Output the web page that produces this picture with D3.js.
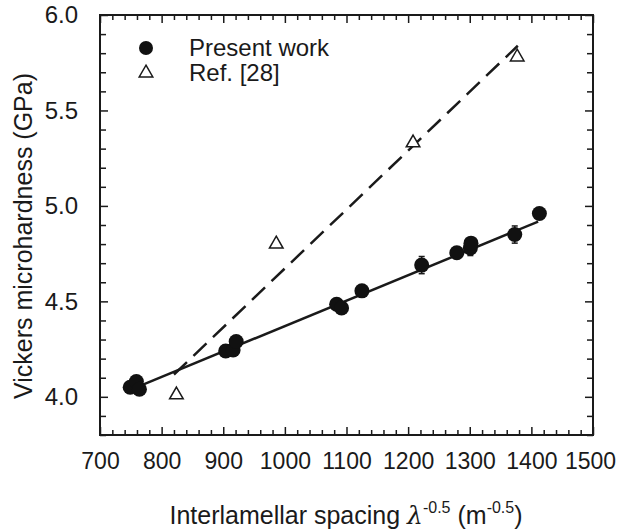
<!DOCTYPE html>
<html>
<head>
<meta charset="utf-8">
<script src="https://cdn.jsdelivr.net/npm/d3@7"></script>
<style>
body { margin: 0; background: #fff; }
text { font-family: "Liberation Sans", Arial, sans-serif; fill: #1a1a1a; }
</style>
</head>
<body>
<div id="chart-area"></div>
<script>
// present work (filled circles)
var presentX = [749, 759, 764, 904, 916, 921, 1084, 1092, 1125, 1222, 1279, 1301, 1302, 1373, 1413];
var presentY = [4.05, 4.08, 4.04, 4.24, 4.245, 4.29, 4.485, 4.465, 4.555, 4.69, 4.755, 4.78, 4.805, 4.85, 4.96];
var presentErr = [0.02, 0.02, 0.03, 0.03, 0.02, 0.02, 0.02, 0.02, 0.02, 0.045, 0.02, 0.04, 0.02, 0.045, 0.02];

// Ref. [28] (open triangles)
var refX = [824, 986, 1208, 1377];
var refY = [4.01, 4.80, 5.33, 5.78];

// fitted lines
var fitPresentX = [757, 1411];
var fitPresentY = [4.047, 4.918];
var fitRefX = [820, 1378];
var fitRefY = [4.117, 5.839];

var xMajor = [700, 800, 900, 1000, 1100, 1200, 1300, 1400, 1500];
var yMajor = [4.0, 4.5, 5.0, 5.5, 6.0];
var legendLabels = ["Present work", "Ref. [28]"];

var margin = {left: 100, right: 25, top: 15, bottom: 97};
var width = 493;
var height = 420;

var svg = d3.select("#chart-area")
	.append("svg")
	.attr("width", 618)
	.attr("height", 532);

var g = svg.append("g")
	.attr("transform", "translate(" + margin.left + "," + margin.top + ")");

var x = d3.scaleLinear()
	.domain([700, 1500])
	.range([0, width]);

var y = d3.scaleLinear()
	.domain([3.8, 6.0])
	.range([height, 0]);

var xMinor = d3.range(700, 1501, 20).filter((d) => { return d % 100 != 0; });
var yMinor = d3.range(38, 61, 1).map((d) => { return d / 10; }).filter((d) => { return Math.round(d * 10) % 5 != 0; });

function styleAxis(sel) {
	sel.select(".domain").remove();
	sel.selectAll("line").attr("stroke", "#1a1a1a").attr("stroke-width", 1.5);
	sel.selectAll("text").attr("font-size", "23px");
}

// bottom
var xAxisGroup = g.append("g").attr("transform", "translate(0," + height + ")")
	.call(d3.axisBottom(x).tickValues(xMajor).tickSizeInner(-8).tickPadding(18).tickFormat(d3.format("d")))
	.call(styleAxis);
// keep the last label inside the window
xAxisGroup.selectAll("text").filter((d) => { return d == 1500; }).attr("dx", -3);
g.append("g").attr("transform", "translate(0," + height + ")")
	.call(d3.axisBottom(x).tickValues(xMinor).tickSizeInner(-5).tickFormat(""))
	.call(styleAxis);
// top
g.append("g")
	.call(d3.axisTop(x).tickValues(xMajor).tickSizeInner(-8).tickFormat(""))
	.call(styleAxis);
g.append("g")
	.call(d3.axisTop(x).tickValues(xMinor).tickSizeInner(-5).tickFormat(""))
	.call(styleAxis);
// left
g.append("g")
	.call(d3.axisLeft(y).tickValues(yMajor).tickSizeInner(-8).tickPadding(22).tickFormat(d3.format(".1f")))
	.call(styleAxis)
	.selectAll("text").attr("font-size", "24px");
g.append("g")
	.call(d3.axisLeft(y).tickValues(yMinor).tickSizeInner(-6).tickFormat(""))
	.call(styleAxis);
// right
g.append("g").attr("transform", "translate(" + width + ",0)")
	.call(d3.axisRight(y).tickValues(yMajor).tickSizeInner(-8).tickFormat(""))
	.call(styleAxis);
g.append("g").attr("transform", "translate(" + width + ",0)")
	.call(d3.axisRight(y).tickValues(yMinor).tickSizeInner(-6).tickFormat(""))
	.call(styleAxis);

g.append("rect")
	.attr("width", width)
	.attr("height", height)
	.attr("fill", "none")
	.attr("stroke", "#1a1a1a")
	.attr("stroke-width", 2);

var line = d3.line()
	.x((d) => { return x(d[0]); })
	.y((d) => { return y(d[1]); });

g.append("path")
	.datum(d3.zip(fitRefX, fitRefY))
	.attr("d", line)
	.attr("fill", "none")
	.attr("stroke", "#1a1a1a")
	.attr("stroke-width", 2.5)
	.attr("stroke-dasharray", "18,9");

g.append("path")
	.datum(d3.zip(fitPresentX, fitPresentY))
	.attr("d", line)
	.attr("fill", "none")
	.attr("stroke", "#1a1a1a")
	.attr("stroke-width", 2.5);

var present = d3.zip(presentX, presentY, presentErr);

// error bars
var eb = g.selectAll(".errbar").data(present).enter().append("g").attr("class", "errbar");
eb.append("line")
	.attr("x1", (d) => { return x(d[0]); })
	.attr("x2", (d) => { return x(d[0]); })
	.attr("y1", (d) => { return y(d[1] - d[2]); })
	.attr("y2", (d) => { return y(d[1] + d[2]); })
	.attr("stroke", "#1a1a1a").attr("stroke-width", 1.5);
eb.selectAll(".cap").data((d) => { return [[d[0], d[1] - d[2]], [d[0], d[1] + d[2]]]; })
	.enter().append("line")
	.attr("x1", (d) => { return x(d[0]) - 3; })
	.attr("x2", (d) => { return x(d[0]) + 3; })
	.attr("y1", (d) => { return y(d[1]); })
	.attr("y2", (d) => { return y(d[1]); })
	.attr("stroke", "#1a1a1a").attr("stroke-width", 1.5);

g.selectAll(".pt").data(present).enter()
	.append("circle")
	.attr("class", "pt")
	.attr("cx", (d) => { return x(d[0]); })
	.attr("cy", (d) => { return y(d[1]); })
	.attr("r", 7.5)
	.attr("fill", "#111");

var tri = d3.symbol().type(d3.symbolTriangle).size(80);

g.selectAll(".ref").data(d3.zip(refX, refY)).enter()
	.append("path")
	.attr("class", "ref")
	.attr("d", tri)
	.attr("transform", (d) => { return "translate(" + x(d[0]) + "," + y(d[1]) + ")"; })
	.attr("fill", "#fff")
	.attr("stroke", "#1a1a1a")
	.attr("stroke-width", 1.5);

// legend
var legend = svg.append("g").attr("transform", "translate(146, 48)");
legendLabels.forEach((lab, i) => {
	var row = legend.append("g").attr("transform", "translate(0," + (i * 25) + ")");
	if (i == 0) {
		row.append("circle").attr("r", 7).attr("fill", "#111");
	} else {
		row.append("path").attr("d", tri).attr("fill", "#fff")
			.attr("stroke", "#1a1a1a").attr("stroke-width", 1.5);
	}
	row.append("text")
		.attr("x", 43)
		.attr("y", 8)
		.attr("font-size", "24px")
		.text(lab);
});

// axis labels
var yLabel = svg.append("text")
	.attr("transform", "translate(32, 236) rotate(-90)")
	.attr("text-anchor", "middle")
	.attr("font-size", "25px")
	.text("Vickers microhardness (GPa)");

var xLabel = svg.append("text")
	.attr("x", 346)
	.attr("y", 524)
	.attr("text-anchor", "middle")
	.attr("font-size", "25px");
xLabel.append("tspan").text("Interlamellar spacing ");
xLabel.append("tspan").attr("font-family", "DejaVu Serif, serif").attr("font-style", "italic").text("λ");
xLabel.append("tspan").attr("font-size", "16px").attr("dy", -11).text("-0.5");
xLabel.append("tspan").attr("dy", 11).text(" (m");
xLabel.append("tspan").attr("font-size", "16px").attr("dy", -11).text("-0.5");
xLabel.append("tspan").attr("dy", 11).text(")");
</script>
</body>
</html>
